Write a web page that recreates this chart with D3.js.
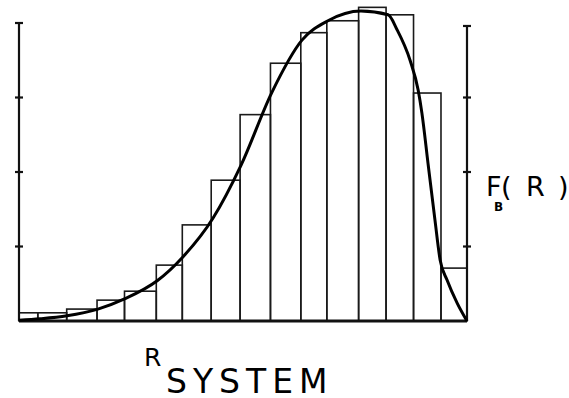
<!DOCTYPE html>
<meta charset="utf-8">
<style>
body{margin:0;background:#fff;}
svg{display:block;}
.bars rect{fill:none;stroke:#1a1a1a;stroke-width:1.6px;}
.curve{fill:none;stroke:#000;stroke-width:3px;}
.ax line{stroke:#111;}
text{font-family:"DejaVu Sans",sans-serif;fill:#000;}
</style>
<body>
<script src="https://d3js.org/d3.v7.min.js"></script>
<script>

// histogram bin edges (R units) and bar heights
var binEdges = [0, 0.65, 1.65, 2.7, 3.65, 4.75, 5.65, 6.65, 7.65, 8.7, 9.75, 10.65, 11.75, 12.7, 13.65, 14.6, 15.5];
var barValues = [0.11, 0.11, 0.16, 0.28, 0.40, 0.75, 1.29, 1.89, 2.77, 3.46, 3.87, 4.03, 4.21, 4.11, 3.06, 0.71];

// fitted density curve F_B(R)
var curveR = [0, 0.73, 1.66, 2.73, 3.67, 4.78, 5.67, 6.71, 7.68, 8.75, 9.79, 10.69, 11.83, 12.77, 13.08, 13.53, 13.81, 13.94, 14.15, 14.39, 14.57, 14.81, 15.16, 15.5];
var curveF = [0.01, 0.03, 0.07, 0.16, 0.30, 0.54, 0.86, 1.38, 2.09, 3.07, 3.77, 4.03, 4.16, 4.11, 3.91, 3.50, 3.10, 2.79, 2.12, 1.36, 0.82, 0.55, 0.24, 0.0];

var yTicks = [1, 2, 3];
var leftTop = 4.0, rightTop = 3.96;

var W = 569, H = 398;
var svg = d3.select("body").append("svg").attr("width", W).attr("height", H);

var x = d3.scaleLinear().domain([0, 15.5]).range([19, 467]);
var y = d3.scaleLinear().domain([0, 4]).range([321, 23]);

// bars
var bins = barValues.map(function(v, i){ return {x0: binEdges[i], x1: binEdges[i+1], v: v}; });
svg.append("g").attr("class", "bars")
  .selectAll("rect").data(bins).enter().append("rect")
  .attr("x", d => x(d.x0))
  .attr("y", d => y(d.v))
  .attr("width", d => x(d.x1) - x(d.x0))
  .attr("height", d => y(0) - y(d.v));

// axes (plain lines with crossing ticks)
function drawAxis(xv, top){
  var g = svg.append("g").attr("class", "ax");
  g.append("line").attr("x1", x(xv)).attr("x2", x(xv))
    .attr("y1", y(0)).attr("y2", y(top)).attr("stroke-width", 2.2);
  g.selectAll(".tk").data(yTicks.concat([top])).enter().append("line")
    .attr("x1", x(xv) - 4).attr("x2", x(xv) + 4)
    .attr("y1", d => y(d)).attr("y2", d => y(d))
    .attr("stroke-width", 2.2);
}
drawAxis(0, leftTop);
drawAxis(15.5, rightTop);

// baseline
svg.append("line").attr("class", "ax")
  .attr("x1", x(0)).attr("x2", x(15.5))
  .attr("y1", y(0)).attr("y2", y(0))
  .attr("stroke", "#111").attr("stroke-width", 2.8);

// curve
var pts = curveR.map((r, i) => [r, curveF[i]]);
svg.append("path").attr("class", "curve")
  .attr("d", d3.line().x(d => x(d[0])).y(d => y(d[1])).curve(d3.curveMonotoneX)(pts));

// labels
svg.append("text").attr("x", 486).attr("y", 196).attr("font-size", 27).text("F");
svg.append("text").attr("x", 494).attr("y", 211).attr("font-size", 12).attr("font-weight", "bold").text("B");
svg.append("text").attr("x", 501).attr("y", 196).attr("font-size", 27).text("(");
svg.append("text").attr("x", 526).attr("y", 196).attr("font-size", 27).text("R");
svg.append("text").attr("x", 558).attr("y", 196).attr("font-size", 27).text(")");

svg.append("text").attr("x", 144).attr("y", 366).attr("font-size", 25).text("R");
svg.append("text").attr("x", 166).attr("y", 393).attr("font-size", 33)
  .attr("letter-spacing", 6).text("SYSTEM");

</script>
</body>
